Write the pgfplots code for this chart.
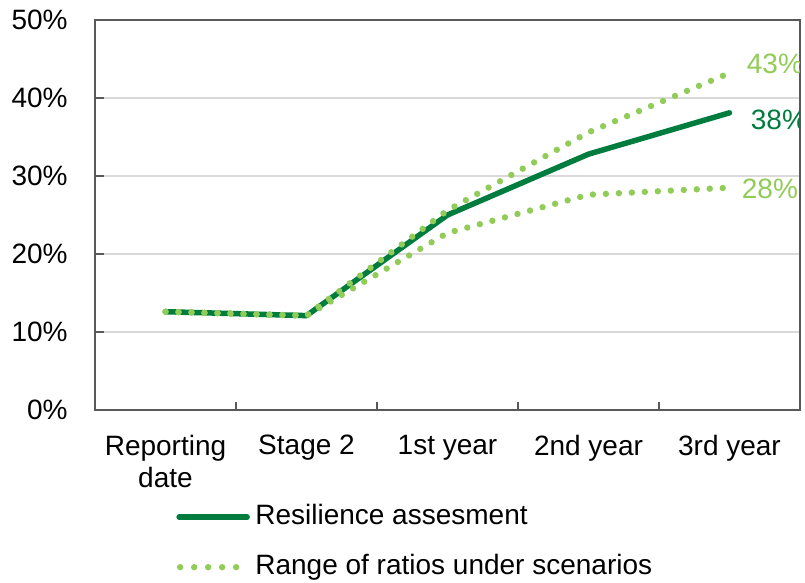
\documentclass[border=0pt]{standalone}
\usepackage{pgfplots}
\pgfplotsset{compat=1.18}
\usepackage{fontspec}
\setmainfont{Liberation Sans}
\definecolor{dkgreen}{RGB}{0,125,62}
\definecolor{ltgreen}{RGB}{146,204,88}
\definecolor{axgray}{RGB}{89,89,89}
\definecolor{grgray}{RGB}{217,217,217}
\pgfplotsset{dotlegend/.style={legend image code/.code={\draw[ltgreen, line width=3.2pt, line cap=round, dash pattern=on 0pt off 7pt] (1.5pt,0pt) -- (29.6pt,0pt); \path (35pt,0pt);}}}
\begin{document}
\begin{tikzpicture}
\begin{axis}[
  scale only axis,
  width=352.5pt, height=195pt,
  xmin=-0.5, xmax=4.5, ymin=0, ymax=50,
  axis line style={axgray, line width=1pt},
  xtick={0,1,2,3,4},
  xticklabels={{Reporting\\date},{Stage 2},{1st year},{2nd year},{3rd year}},
  minor xtick={0.5,1.5,2.5,3.5},
  major x tick style={draw=none},
  minor x tick style={axgray, line width=1pt},
  ytick={0,10,20,30,40,50},
  yticklabels={0\%,10\%,20\%,30\%,40\%,50\%},
  y tick style={axgray, line width=1pt},
  major tick length=4.5pt,
  minor tick length=4pt,
  tick align=inside,
  tick pos=left,
  ymajorgrids,
  major grid style={grgray, line width=0.6pt},
  tick label style={font=\fontsize{14}{16}\selectfont, inner sep=0pt},
  xticklabel style={align=center, anchor=north, yshift=-12.5pt},
  yticklabel style={anchor=east, xshift=-13.5pt},
  legend style={
    at={(axis description cs:0.1149,-0.2405)}, anchor=north west,
    draw=none, fill=none, inner sep=0pt,
    font=\fontsize{14}{16}\selectfont,
    nodes={inner sep=0pt, text height=10pt, text depth=3pt},
    row sep=12pt, column sep=2.5pt,
  },
  legend cell align=left,
  legend image code/.code={\draw[#1] (1pt,0pt) -- (35pt,0pt);},
]
\addplot[dkgreen, line width=2.75pt, line join=round, line cap=round] coordinates {
  (0,12.6) (1,12.1) (2,25.0) (3,32.8) (4,38.1)
};
\addlegendentry{Resilience assesment}
\addplot[ltgreen, line width=3.2pt, line cap=round, dash pattern=on 0pt off 6.5pt, dotlegend] coordinates {
  (0,12.6) (1,12.1) (2,25.6) (3,35.6) (4,43.2)
};
\addlegendentry{Range of ratios under scenarios}
\addplot[ltgreen, line width=3.2pt, line cap=round, dash pattern=on 0pt off 6.5pt, forget plot] coordinates {
  (0,12.6) (1,12.1) (2,22.7) (3,27.6) (4,28.5)
};
\node[anchor=west, inner sep=0pt, text=ltgreen, font=\fontsize{14}{16}\selectfont] at (axis cs:4,43.2) [xshift=8.5pt, yshift=4.5pt] {43\%};
\node[anchor=west, inner sep=0pt, text=dkgreen, font=\fontsize{14}{16}\selectfont] at (axis cs:4,38.1) [xshift=10.5pt, yshift=-3.5pt] {38\%};
\node[anchor=west, inner sep=0pt, text=ltgreen, font=\fontsize{14}{16}\selectfont] at (axis cs:4,28.5) [xshift=6pt, yshift=-0.5pt] {28\%};
\end{axis}
\pgfresetboundingbox
\path[use as bounding box] (-47.5pt,-86.5pt) rectangle (355pt,205pt);
\end{tikzpicture}
\end{document}
